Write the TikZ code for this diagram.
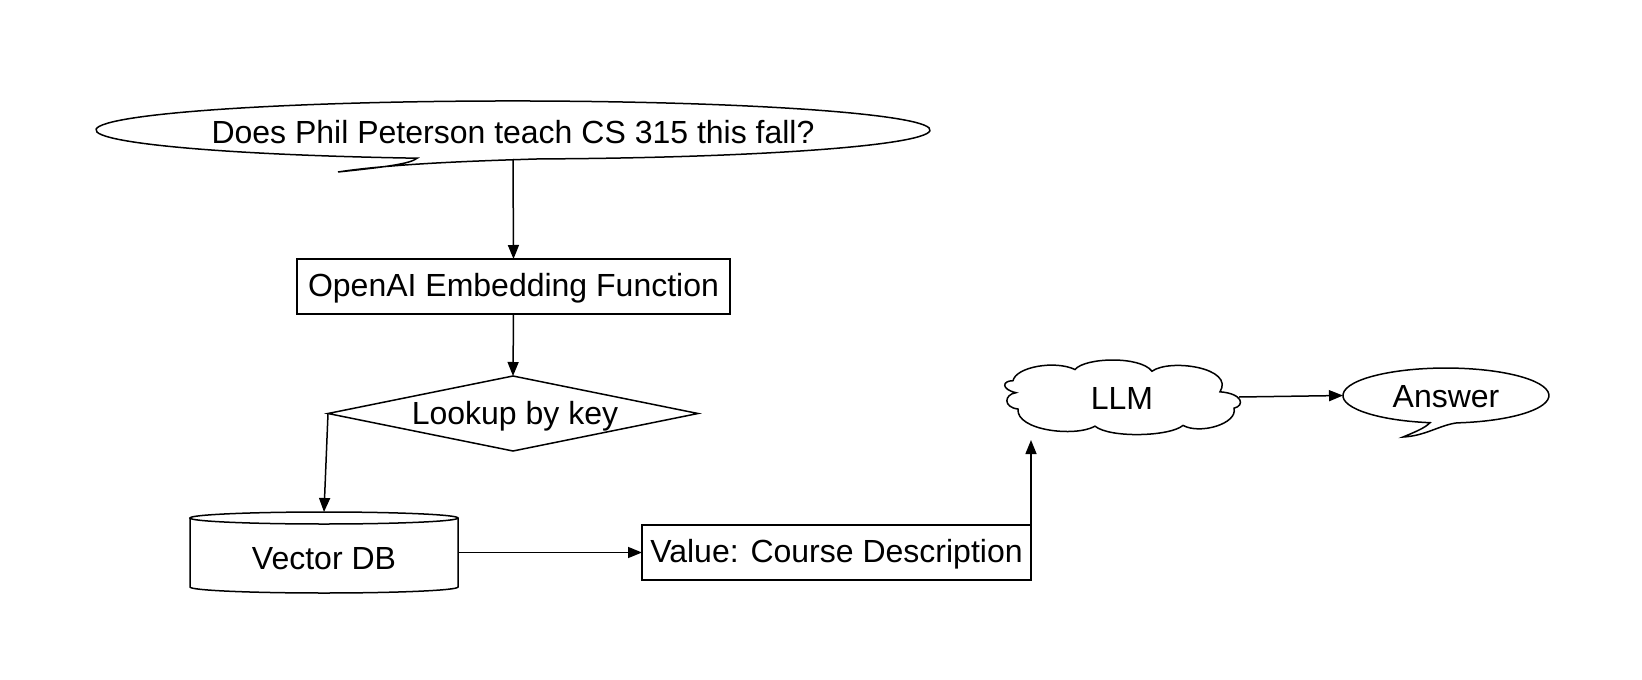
\documentclass[tikz,border=0pt]{standalone}
\usepackage{fontspec}
\setmainfont{Liberation Sans}
\usetikzlibrary{arrows.meta,shapes.geometric}
\begin{document}
\begin{tikzpicture}[x=1pt,y=-1pt,
  every node/.style={font=\fontsize{32}{38}\selectfont, inner sep=0pt, outer sep=0pt},
  line/.style={line width=1.5pt},
  conn/.style={line width=1.5pt, -{Triangle[length=14pt,width=11pt]}},
  box/.style={draw, line width=1.5pt, rectangle},
]
\useasboundingbox[fill=white] (0,0) rectangle (1642,680);

% question bubble
\node[ellipse, minimum width=834, minimum height=58] (q) at (513,130) {};
\draw[line, fill=white] (417.1,158.2)
  arc[start angle=103.3, end angle=446.4, x radius=417, y radius=29]
  .. controls (470,161) and (390,164) .. (338,172)
  .. controls (385,167) and (410,164) .. cycle;
\node (qt) at (513,132) {Does Phil Peterson teach CS 315 this fall?};

% embedding box
\node[box, minimum width=433, minimum height=55] (emb) at (513.5,286.5) {};
\node (embt) at (513.5,288) {OpenAI Embedding Function};

% diamond
\node[diamond, draw, line width=1.5pt, aspect=4.93, minimum width=370, minimum height=75] (dia) at (513,413.5) {};
\node (diat) at (515,416) {Lookup by key};

% cylinder
\node[minimum width=268, minimum height=81] (db) at (324,552.5) {};
\draw[line] (190,518) -- (190,587) arc[start angle=180, end angle=0, x radius=134, y radius=6] -- (458,518);
\draw[line] (324,518) ellipse [x radius=134, y radius=6];
\node (dbt) at (324,559) {Vector DB};

% value box
\node[box, minimum width=389, minimum height=55] (val) at (836.5,552.5) {};
\node (valt) at (836.5,554) {Value: Course Description};

% LLM cloud
\node[minimum width=232, minimum height=68] (llm) at (1123,397) {};
\draw[line, fill=white] (1013,380.7)
  .. controls (1016,366.9) and (1055,360.0) .. (1075,369.5)
  .. controls (1085,357.4) and (1140,355.7) .. (1152,371.2)
  .. controls (1170,358.3) and (1235,367.8) .. (1220,391.8)
  .. controls (1243,393.6) and (1245,405.6) .. (1234,408.2)
  .. controls (1238,423.7) and (1200,434.8) .. (1183,425.4)
  .. controls (1170,436.6) and (1110,438.3) .. (1095,426.2)
  .. controls (1075,437.4) and (1016,430.5) .. (1018,409.0)
  .. controls (1003,407.3) and (1004,394.4) .. (1016,392.7)
  .. controls (1001,389.3) and (1002,380.7) .. cycle;
\node (llmt) at (1122,398) {LLM};

% answer bubble
\node[ellipse, minimum width=206, minimum height=55] (ans) at (1446,395.5) {};
\draw[line, fill=white] (1430,422.7)
  arc[start angle=98.9, end angle=443.9, x radius=103, y radius=27.5]
  .. controls (1440,425) and (1425,436) .. (1403,437)
  .. controls (1415,432) and (1425,428) .. cycle;
\node (anst) at (1446,397) {Answer};

% connectors
\draw[conn] (q.south) -- (emb.north);
\draw[conn] (emb.south) -- (dia.north);
\draw[conn] (dia.west) -- (db.north);
\draw[conn] (db.east) -- (val.west);
\draw[conn, shorten >=9pt] (val.north east) -- (val.north east |- llm.south);
\draw[conn] (llm.east) -- (ans.west);
\end{tikzpicture}
\end{document}
